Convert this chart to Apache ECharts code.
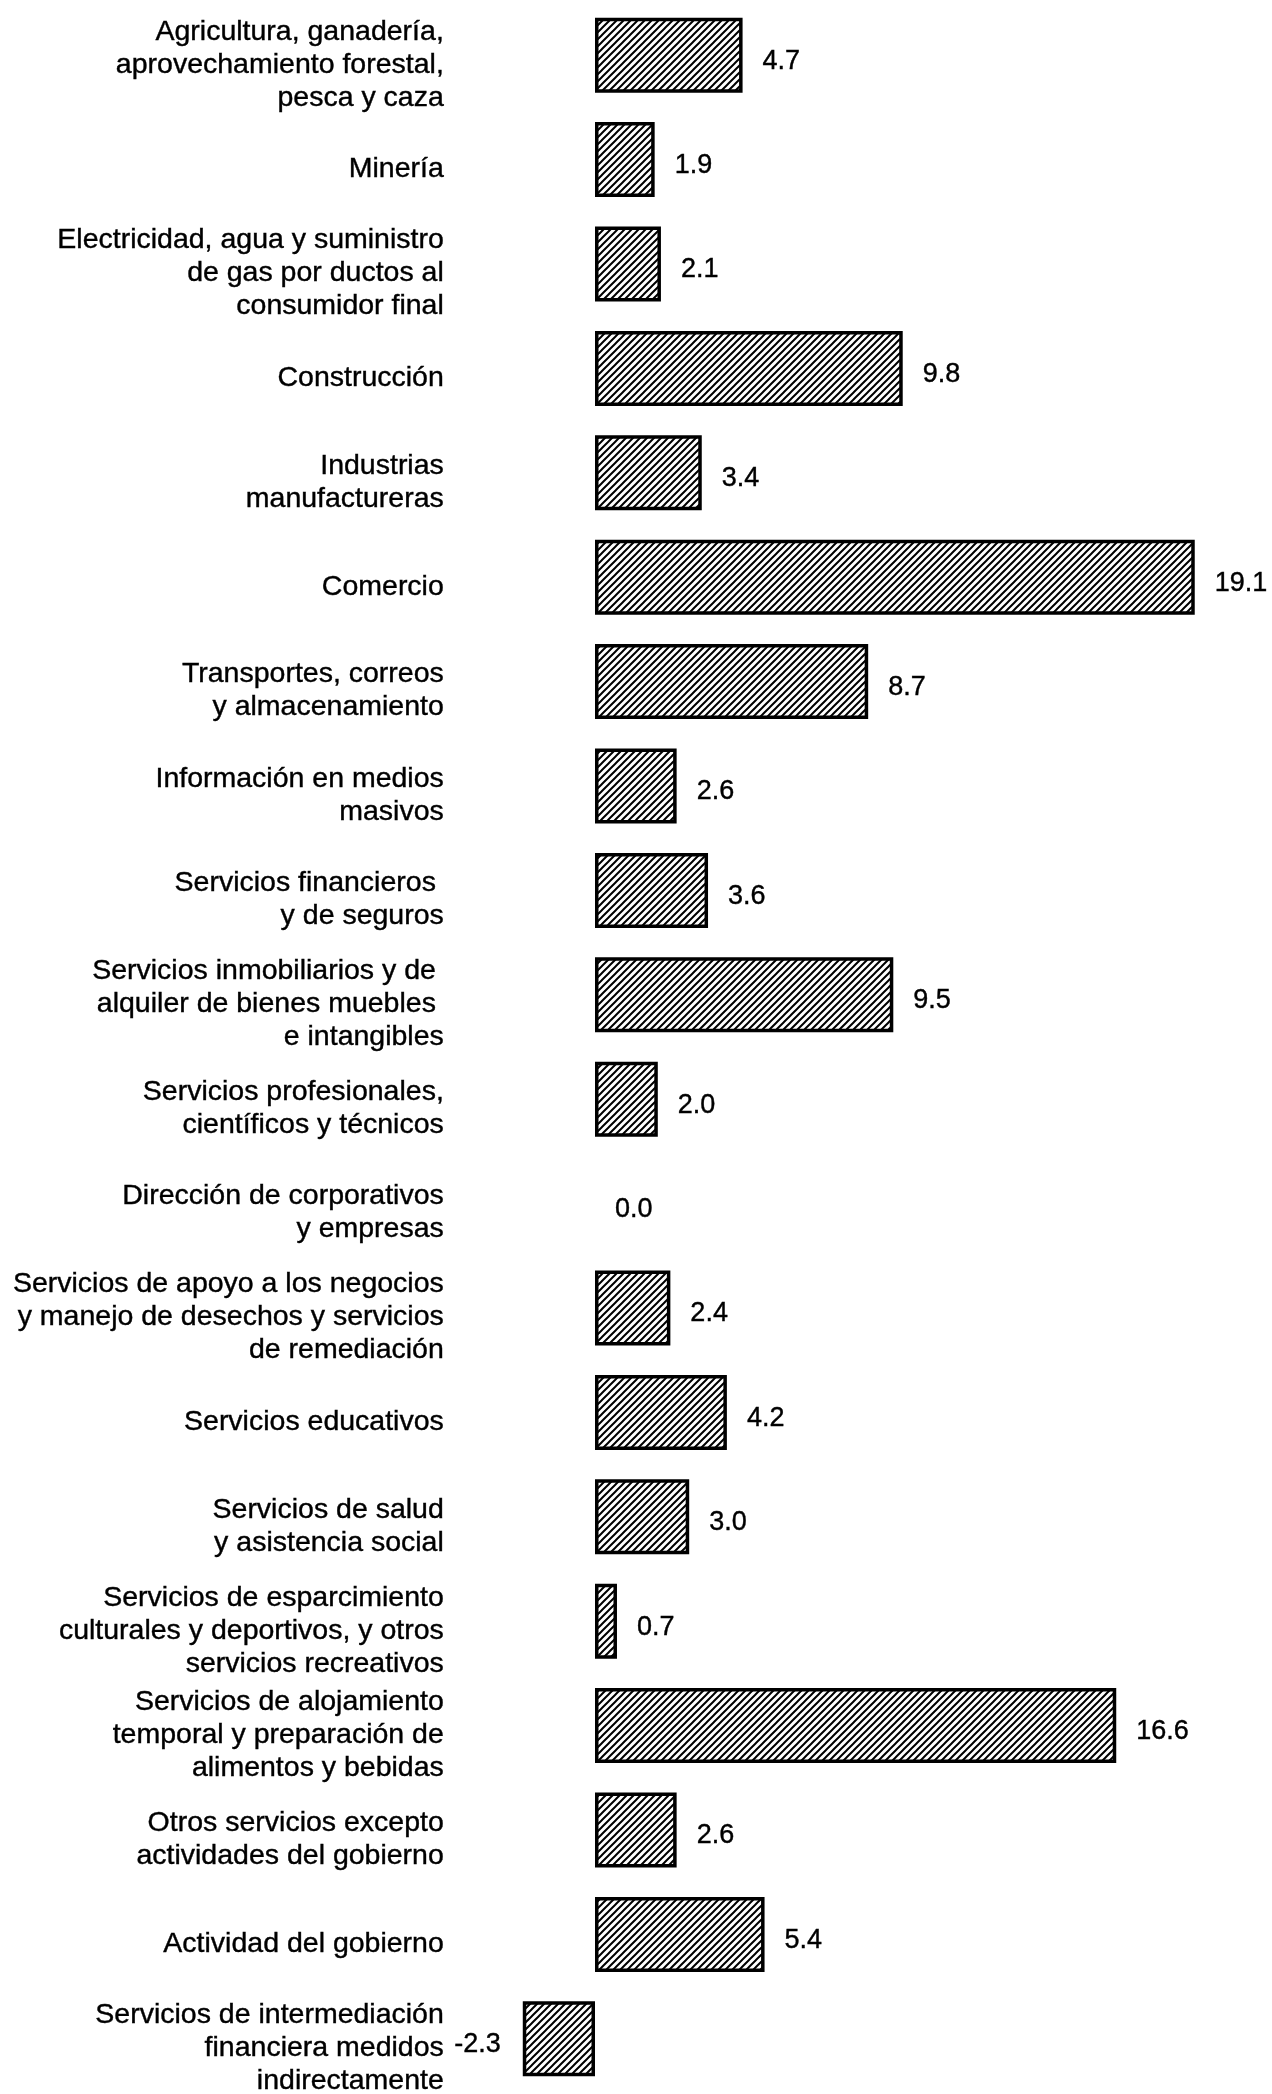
<!DOCTYPE html>
<html>
<head>
<meta charset="utf-8">
<title>Participación por actividad económica</title>
<script src="https://cdn.jsdelivr.net/npm/echarts@6/dist/echarts.min.js"></script>
<style>
  html, body { margin: 0; padding: 0; background: #ffffff; }
  #chart { width: 1272px; height: 2094px; }
</style>
</head>
<body>
<div id="chart"></div>
<script>
// Sectores de actividad (de arriba hacia abajo)
const categories = [
  'Agricultura, ganadería,\naprovechamiento forestal,\npesca y caza',
  'Minería',
  'Electricidad, agua y suministro\nde gas por ductos al\nconsumidor final',
  'Construcción',
  'Industrias\nmanufactureras',
  'Comercio',
  'Transportes, correos\ny almacenamiento',
  'Información en medios\nmasivos',
  'Servicios financieros \ny de seguros',
  'Servicios inmobiliarios y de \nalquiler de bienes muebles \ne intangibles',
  'Servicios profesionales,\ncientíficos y técnicos',
  'Dirección de corporativos\ny empresas',
  'Servicios de apoyo a los negocios\ny manejo de desechos y servicios\nde remediación',
  'Servicios educativos',
  'Servicios de salud\ny asistencia social',
  'Servicios de esparcimiento\nculturales y deportivos, y otros\nservicios recreativos',
  'Servicios de alojamiento\ntemporal y preparación de\nalimentos y bebidas',
  'Otros servicios excepto\nactividades del gobierno',
  'Actividad del gobierno',
  'Servicios de intermediación\nfinanciera medidos\nindirectamente'
];

// Valores por sector
const values = [4.7, 1.9, 2.1, 9.8, 3.4, 19.1, 8.7, 2.6, 3.6, 9.5, 2.0, 0.0, 2.4, 4.2, 3.0, 0.7, 16.6, 2.6, 5.4, -2.3];

// Rayado diagonal para el relleno de las barras
function hatchTile() {
  const s = 7;
  const c = document.createElement('canvas');
  c.width = s; c.height = s;
  const g = c.getContext('2d');
  g.fillStyle = '#ffffff';
  g.fillRect(0, 0, s, s);
  g.strokeStyle = '#000000';
  g.lineWidth = 2;
  g.beginPath();
  g.moveTo(-1, s + 1); g.lineTo(s + 1, -1);
  g.moveTo(-1, 1); g.lineTo(1, -1);
  g.moveTo(s - 1, s + 1); g.lineTo(s + 1, s - 1);
  g.stroke();
  return c;
}
const hatch = { image: hatchTile(), repeat: 'repeat' };

const FONT = '"Liberation Sans", Arial, Helvetica, sans-serif';

const seriesData = values.map(function (v) {
  const item = { value: v };
  if (v < 0) item.label = { position: 'left', distance: 22 };
  if (v === 0) item.itemStyle = { borderWidth: 0 };
  return item;
});

// Etiqueta de categoría: un renglón espaciador corto baja el bloque de texto
function categoryLabel(text) {
  return '{s| }\n' + text.split('\n').map(function (l) { return '{t|' + l + '}'; }).join('\n');
}

const chart = echarts.init(document.getElementById('chart'), null, { renderer: 'canvas' });
chart.setOption({
  backgroundColor: '#ffffff',
  animation: false,
  grid: {
    left: 500.8, width: 722.2, top: 3, height: 2088,
    containLabel: false,
    outerBoundsMode: 'none'
  },
  xAxis: {
    type: 'value',
    min: -3,
    max: 20,
    show: false
  },
  yAxis: {
    type: 'category',
    data: categories,
    inverse: true,
    axisLine: { show: false, onZero: false },
    axisTick: { show: false },
    splitLine: { show: false },
    axisLabel: {
      margin: 57,
      align: 'right',
      formatter: categoryLabel,
      rich: {
        s: { fontSize: 4, lineHeight: 19 },
        t: {
          color: '#000000',
          fontFamily: FONT,
          fontSize: 28.5,
          lineHeight: 33,
          align: 'right',
          textBorderColor: '#000000',
          textBorderWidth: 0.4
        }
      }
    }
  },
  series: [{
    type: 'bar',
    data: seriesData,
    barWidth: 75,
    itemStyle: {
      color: hatch,
      borderColor: '#000000',
      borderWidth: 3.5
    },
    label: {
      show: true,
      position: 'right',
      distance: 20,
      offset: [0, 6],
      color: '#000000',
      fontFamily: FONT,
      fontSize: 27,
      textBorderColor: '#000000',
      textBorderWidth: 0.4,
      formatter: function (p) { return p.value.toFixed(1); }
    }
  }]
});
</script>
</body>
</html>
